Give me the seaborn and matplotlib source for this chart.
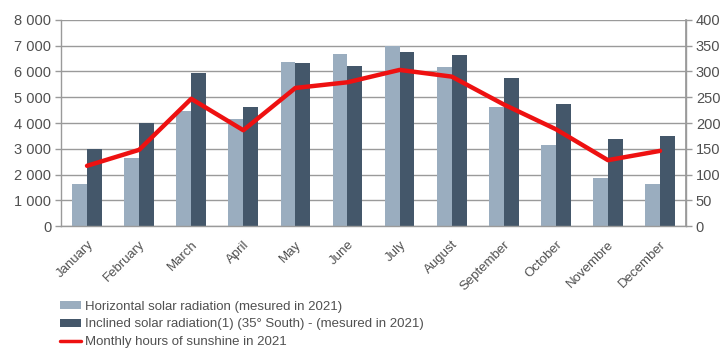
import numpy as np
import pandas as pd
import matplotlib
matplotlib.use("Agg")
import matplotlib.pyplot as plt
from matplotlib.patches import Patch
from matplotlib.lines import Line2D
from matplotlib.ticker import FixedLocator, FuncFormatter
import seaborn as sns

months = ["January", "February", "March", "April", "May", "June", "July",
          "August", "September", "October", "Novembre", "December"]
horizontal = [1630, 2640, 4470, 4150, 6370, 6670, 6990, 6160, 4610, 3150, 1880, 1620]
inclined = [3000, 4000, 5940, 4630, 6320, 6230, 6770, 6630, 5760, 4750, 3390, 3500]
sunshine = [117, 148, 247, 186, 268, 279, 303, 290, 236, 188, 128, 146]

series_names = ["Horizontal solar radiation (mesured in 2021)",
                "Inclined solar radiation(1) (35° South) - (mesured in 2021)"]
line_name = "Monthly hours of sunshine in 2021"

light = "#9aadbf"
dark = "#44576a"
red = "#ee1111"
grid_c = "#9a9a9a"
text_c = "#505050"

sns.set_theme(style="white")
plt.rcParams["font.family"] = ["Liberation Sans", "DejaVu Sans"]

df = pd.DataFrame({
    "month": months * 2,
    "value": horizontal + inclined,
    "series": [series_names[0]] * 12 + [series_names[1]] * 12,
})

fig = plt.figure(figsize=(7.26, 3.49), dpi=100)
ax = fig.add_axes([0.084, 0.352, 0.861, 0.591])

sns.barplot(data=df, x="month", y="value", hue="series", order=months,
            hue_order=series_names, palette=[light, dark], width=0.57,
            gap=0, saturation=1, ax=ax, legend=False, edgecolor="none")

ax.set_ylim(0, 8000)
ax.set_xlim(-0.5, len(months) - 0.5)
ax.set_yticks(range(0, 8001, 1000))
ax.yaxis.set_major_formatter(FuncFormatter(lambda v, p: f"{int(v):,}".replace(",", " ")))
ax.grid(axis="y", color=grid_c, linewidth=1.0)
ax.set_axisbelow(True)
ax.set_xlabel("")
ax.set_ylabel("")

ax.set_xticks(range(len(months)))
ax.set_xticklabels(months, rotation=45, ha="right", rotation_mode="anchor",
                   fontsize=9.5, color=text_c)
ax.xaxis.set_minor_locator(FixedLocator(np.arange(-0.5, len(months), 1.0)))
ax.tick_params(axis="x", which="major", length=0, pad=9)
ax.tick_params(axis="x", which="minor", length=4, width=1, color=grid_c, direction="out")
ax.tick_params(axis="y", length=4, width=1, color=grid_c, labelsize=10.5,
               labelcolor=text_c, left=True, pad=3)

ax.spines["top"].set_visible(False)
for s in ["left", "bottom", "right"]:
    ax.spines[s].set_color(grid_c)
    ax.spines[s].set_linewidth(1.0)

ax2 = ax.twinx()
sns.lineplot(x=list(range(len(months))), y=sunshine, color=red, linewidth=3.2,
             ax=ax2, sort=False)
ax2.set_ylim(0, 400)
ax2.set_yticks(range(0, 401, 50))
ax2.tick_params(axis="y", length=4, width=1, color=grid_c, labelsize=10.5,
                labelcolor=text_c, right=True, pad=3)
for s in ["top", "left", "bottom"]:
    ax2.spines[s].set_visible(False)
ax2.spines["right"].set_color(grid_c)
ax2.grid(False)

handles = [Patch(facecolor=light, edgecolor="none"),
           Patch(facecolor=dark, edgecolor="none"),
           Line2D([], [], color=red, linewidth=2.5)]
fig.legend(handles, series_names + [line_name], loc="upper left",
           bbox_to_anchor=(0.082, 0.138), frameon=False, ncol=1,
           prop={"size": 9.5}, labelcolor=text_c,
           handlelength=1.6, handleheight=0.6,
           handletextpad=0.3, labelspacing=0.42, borderaxespad=0, borderpad=0)

fig.savefig("out.png", dpi=100)
